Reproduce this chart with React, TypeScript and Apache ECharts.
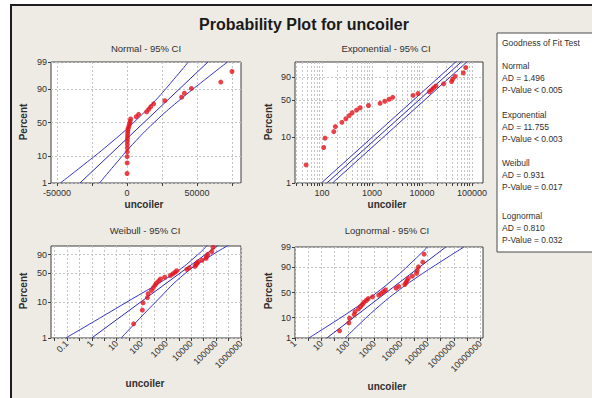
import React, { useEffect, useRef } from 'react';
import * as echarts from 'echarts';

// ---- data (same sample in all four panels) ----
const uncoiler = [48, 108, 115, 172, 185, 250, 300, 350, 400, 490, 580, 850, 1450, 1800, 2200, 2600, 6600, 8300, 14000, 15500, 17000, 19000, 27000, 39000, 41000, 46000, 67000, 75000];
const percent = [2.5, 6.0, 9.5, 13.0, 16.5, 20.1, 23.6, 27.1, 30.6, 34.2, 37.7, 41.2, 44.7, 48.2, 51.8, 55.3, 58.8, 62.3, 65.8, 69.4, 72.9, 76.4, 79.9, 83.5, 87.0, 90.5, 94.0, 97.5];

// fitted lines and 95% CI bands: [uncoiler, percent]
const normalFit = [[-33600, 1], [57800, 99]];
const normalLower = [[-47600, 1], [-31400, 5], [-12900, 20], [4800, 50], [20200, 80], [33200, 95], [43800, 99]];
const normalUpper = [[-19600, 1], [-9000, 5], [4000, 20], [19400, 50], [37100, 80], [55600, 95], [71800, 99]];

const expFit = [[125, 1], [65700, 99.5]];
const expLower = [[97, 1], [51000, 99.5]];
const expUpper = [[162, 1], [85000, 99.5]];

const weibullFit = [[0.99, 1], [138000, 99]];
const weibullLower = [[0.09, 1], [26, 10], [2140, 50], [18200, 90], [49000, 99]];
const weibullUpper = [[15.3, 1], [370, 10], [5900, 50], [72000, 90], [390000, 99]];

const lognormFit = [[16, 1], [495000, 99]];
const lognormLower = [[3.3, 1], [20.7, 5], [167, 20], [1240, 50], [7000, 80], [30800, 95], [101600, 99]];
const lognormUpper = [[78, 1], [258, 5], [1130, 20], [6400, 50], [47600, 80], [385000, 95], [2400000, 99]];

// tick labels
const normalXLabels = [-50000, 0, 50000];
const normalXGrid = [-50000, -25000, 0, 25000, 50000, 75000];
const expXLabels = [100, 1000, 10000, 100000];
const weibullXLabels = [0.1, 1, 10, 100, 1000, 10000, 100000, 1000000];
const lognormXLabels = [1, 10, 100, 1000, 10000, 100000, 1000000, 10000000];
const normalYTicks = [1, 10, 50, 90, 99];
const expYTicks = [1, 10, 50, 90];
const weibullYTicks = [1, 10, 50, 90];
const lognormYTicks = [1, 10, 50, 90, 99];

const gofLines = [
  'Goodness of Fit Test', '',
  'Normal', 'AD = 1.496', 'P-Value < 0.005', '',
  'Exponential', 'AD = 11.755', 'P-Value < 0.003', '',
  'Weibull', 'AD = 0.931', 'P-Value = 0.017', '',
  'Lognormal', 'AD = 0.810', 'P-Value = 0.032',
];

// ---- probability-scale transforms ----
function probit(p: number): number {
  const a = [-39.69683028665376, 220.9460984245205, -275.9285104469687, 138.357751867269, -30.66479806614716, 2.506628277459239];
  const b = [-54.47609879822406, 161.5858368580409, -155.6989798598866, 66.80131188771972, -13.28068155288572];
  const c = [-0.007784894002430293, -0.3223964580411365, -2.400758277161838, -2.549732539343734, 4.374664141464968, 2.938163982698783];
  const d = [0.007784695709041462, 0.3224671290700398, 2.445134137142996, 3.754408661907416];
  const pl = 0.02425;
  if (p < pl) {
    const q = Math.sqrt(-2 * Math.log(p));
    return (((((c[0] * q + c[1]) * q + c[2]) * q + c[3]) * q + c[4]) * q + c[5]) / ((((d[0] * q + d[1]) * q + d[2]) * q + d[3]) * q + 1);
  }
  if (p <= 1 - pl) {
    const q = p - 0.5;
    const r = q * q;
    return (((((a[0] * r + a[1]) * r + a[2]) * r + a[3]) * r + a[4]) * r + a[5]) * q / (((((b[0] * r + b[1]) * r + b[2]) * r + b[3]) * r + b[4]) * r + 1);
  }
  const q = Math.sqrt(-2 * Math.log(1 - p));
  return -(((((c[0] * q + c[1]) * q + c[2]) * q + c[3]) * q + c[4]) * q + c[5]) / ((((d[0] * q + d[1]) * q + d[2]) * q + d[3]) * q + 1);
}
const zOf = (pct: number) => probit(pct / 100);
const wOf = (pct: number) => Math.log10(-Math.log(1 - pct / 100));
const lin = (v: number) => v;
const lg = (v: number) => Math.log10(v);

const FONT = '"Liberation Sans", Arial, sans-serif';
const TXT = '#303030';
const BLUE = '#3434C8';
const RED = '#E3141B';

function decadeMinors(lo: number, hi: number): number[] {
  const out: number[] = [];
  for (let e = Math.floor(lo) - 1; e <= Math.ceil(hi); e++) {
    for (let k = 1; k <= 9; k++) {
      const v = Math.log10(k * Math.pow(10, e));
      if (v >= lo - 1e-9 && v <= hi + 1e-9) out.push(v);
    }
  }
  return out;
}
function halfDecades(lo: number, hi: number): number[] {
  const out: number[] = [];
  for (let v = Math.ceil(lo * 2) / 2; v <= hi + 1e-9; v += 0.5) out.push(v);
  return out;
}

type Panel = {
  g: number[]; xT: (v: number) => number; yT: (v: number) => number;
  xMin: number; xMax: number; yMin: number; yMax: number;
  xLabels: number[]; xGrid: number[]; yTicks: number[]; rotate: number;
  fit: number[][]; lower: number[][]; upper: number[][];
};

const panels: Panel[] = [
  {
    g: [51, 62, 190, 121], xT: lin, yT: zOf, xMin: -54286, xMax: 81429, yMin: zOf(1), yMax: zOf(99),
    xLabels: normalXLabels, xGrid: normalXGrid, yTicks: normalYTicks, rotate: 0,
    fit: normalFit, lower: normalLower, upper: normalUpper,
  },
  {
    g: [295, 62, 188, 121], xT: lg, yT: wOf, xMin: 1.46, xMax: 5.22, yMin: wOf(1), yMax: 0.691,
    xLabels: expXLabels, xGrid: decadeMinors(1.46, 5.22), yTicks: expYTicks, rotate: 0,
    fit: expFit, lower: expLower, upper: expUpper,
  },
  {
    g: [51, 246, 190, 92], xT: lg, yT: wOf, xMin: -1.64, xMax: 6.0, yMin: wOf(1), yMax: 0.608,
    xLabels: weibullXLabels, xGrid: halfDecades(-1.64, 6.0), yTicks: weibullYTicks, rotate: 45,
    fit: weibullFit, lower: weibullLower, upper: weibullUpper,
  },
  {
    g: [295, 247, 188, 91], xT: lg, yT: zOf, xMin: 0, xMax: 7.1, yMin: zOf(1), yMax: zOf(99),
    xLabels: lognormXLabels, xGrid: halfDecades(0, 7.1), yTicks: lognormYTicks, rotate: 45,
    fit: lognormFit, lower: lognormLower, upper: lognormUpper,
  },
];

function lookupFormatter(raw: number[], t: number[]) {
  return (v: number) => {
    for (let i = 0; i < t.length; i++) {
      if (Math.abs(t[i] - v) < 1e-6 * Math.max(1, Math.abs(v))) return String(raw[i]);
    }
    return '';
  };
}

function buildOption() {
  const grid: any[] = [];
  const xAxis: any[] = [];
  const yAxis: any[] = [];
  const series: any[] = [];
  const split = { show: true, lineStyle: { color: '#C4C4C4', type: [2, 2], width: 1 } };

  panels.forEach((p, i) => {
    grid.push({
      left: p.g[0], top: p.g[1], width: p.g[2], height: p.g[3],
      show: true, backgroundColor: '#FFFFFF', borderColor: '#3C3C3C', borderWidth: 1,
      containLabel: false, outerBoundsMode: 'none',
    });
    const xLabT = p.xLabels.map(p.xT);
    xAxis.push({
      type: 'value', gridIndex: i, min: p.xMin, max: p.xMax, position: 'bottom',
      axisLine: { show: false, onZero: false },
      axisTick: { show: true, length: 3, customValues: p.xGrid, lineStyle: { color: '#3C3C3C' } },
      axisLabel: {
        customValues: xLabT, formatter: lookupFormatter(p.xLabels, xLabT),
        fontSize: 9, color: TXT, fontFamily: FONT, margin: p.rotate ? 4 : 5, rotate: p.rotate,
      },
      splitLine: split,
    });
    const yT = p.yTicks.map(p.yT);
    yAxis.push({
      type: 'value', gridIndex: i, min: p.yMin, max: p.yMax, position: 'left',
      axisLine: { show: false, onZero: false },
      axisTick: { show: true, length: 3, customValues: yT, lineStyle: { color: '#3C3C3C' } },
      axisLabel: {
        customValues: yT, formatter: lookupFormatter(p.yTicks, yT),
        fontSize: 9, color: TXT, fontFamily: FONT, margin: 4,
      },
      splitLine: split,
    });
    const toXY = (arr: number[][]) => arr.map((d) => [p.xT(d[0]), p.yT(d[1])]);
    [p.lower, p.upper].forEach((ln) => {
      series.push({
        type: 'line', xAxisIndex: i, yAxisIndex: i, data: toXY(ln), smooth: ln.length > 2,
        showSymbol: false, symbol: 'none', clip: true, silent: true,
        lineStyle: { color: BLUE, width: 1 }, z: 2,
      });
    });
    series.push({
      type: 'line', xAxisIndex: i, yAxisIndex: i, data: toXY(p.fit),
      showSymbol: false, symbol: 'none', clip: true, silent: true,
      lineStyle: { color: '#2A2AB0', width: 1 }, z: 2,
    });
    series.push({
      type: 'scatter', xAxisIndex: i, yAxisIndex: i,
      data: uncoiler.map((v, k) => [p.xT(v), p.yT(percent[k])]),
      symbolSize: 5, itemStyle: { color: RED }, z: 3, silent: true,
    });
  });

  const txt = (x: number, y: number, text: string, o: any = {}) => ({
    type: 'text', x, y, silent: true,
    style: {
      text, x: 0, y: 0, fill: o.fill || TXT, font: o.font || `9px ${FONT}`,
      textAlign: o.align || 'center', textVerticalAlign: 'middle',
    },
    rotation: o.rotation || 0, z: 10,
  });

  const graphic: any[] = [
    { type: 'rect', shape: { x: 11, y: 5, width: 620, height: 420 }, style: { fill: '#EEEBE4', stroke: '#1E1E1E', lineWidth: 2 }, z: -100, silent: true },
    txt(304, 24, 'Probability Plot for uncoiler', { font: `bold 16px ${FONT}`, fill: '#1A1A1A' }),
    txt(146, 48, 'Normal - 95% CI', { font: `9.5px ${FONT}` }),
    txt(386, 48, 'Exponential - 95% CI', { font: `9.5px ${FONT}` }),
    txt(145, 230, 'Weibull - 95% CI', { font: `9.5px ${FONT}` }),
    txt(387, 230, 'Lognormal - 95% CI', { font: `9.5px ${FONT}` }),
    txt(144, 204, 'uncoiler', { font: `bold 10px ${FONT}` }),
    txt(387, 204, 'uncoiler', { font: `bold 10px ${FONT}` }),
    txt(145, 383, 'uncoiler', { font: `bold 10px ${FONT}` }),
    txt(387, 386, 'uncoiler', { font: `bold 10px ${FONT}` }),
    txt(23, 122, 'Percent', { font: `bold 10px ${FONT}`, rotation: Math.PI / 2 }),
    txt(268, 122, 'Percent', { font: `bold 10px ${FONT}`, rotation: Math.PI / 2 }),
    txt(23, 291, 'Percent', { font: `bold 10px ${FONT}`, rotation: Math.PI / 2 }),
    txt(268, 291, 'Percent', { font: `bold 10px ${FONT}`, rotation: Math.PI / 2 }),
    { type: 'rect', shape: { x: 497, y: 33, width: 120, height: 219 }, style: { fill: '#FFFFFF', stroke: '#4A4A4A', lineWidth: 1 }, z: 5, silent: true },
  ];
  const gofY = [43, 0, 66, 78, 90, 0, 115, 127, 139, 0, 163, 175, 187, 0, 216, 228, 240];
  gofLines.forEach((t, k) => {
    if (t) graphic.push(txt(502, gofY[k], t, { align: 'left', font: `8.5px ${FONT}` }));
  });

  return {
    animation: false,
    backgroundColor: '#FFFFFF',
    grid, xAxis, yAxis, series, graphic,
  };
}

export default function App() {
  const ref = useRef<HTMLDivElement>(null);
  useEffect(() => {
    const chart = echarts.init(ref.current as HTMLDivElement, null, { renderer: 'svg' });
    chart.setOption(buildOption());
    return () => chart.dispose();
  }, []);
  return <div ref={ref} style={{ position: 'fixed', left: 0, top: 0, width: 592, height: 398 }} />;
}
